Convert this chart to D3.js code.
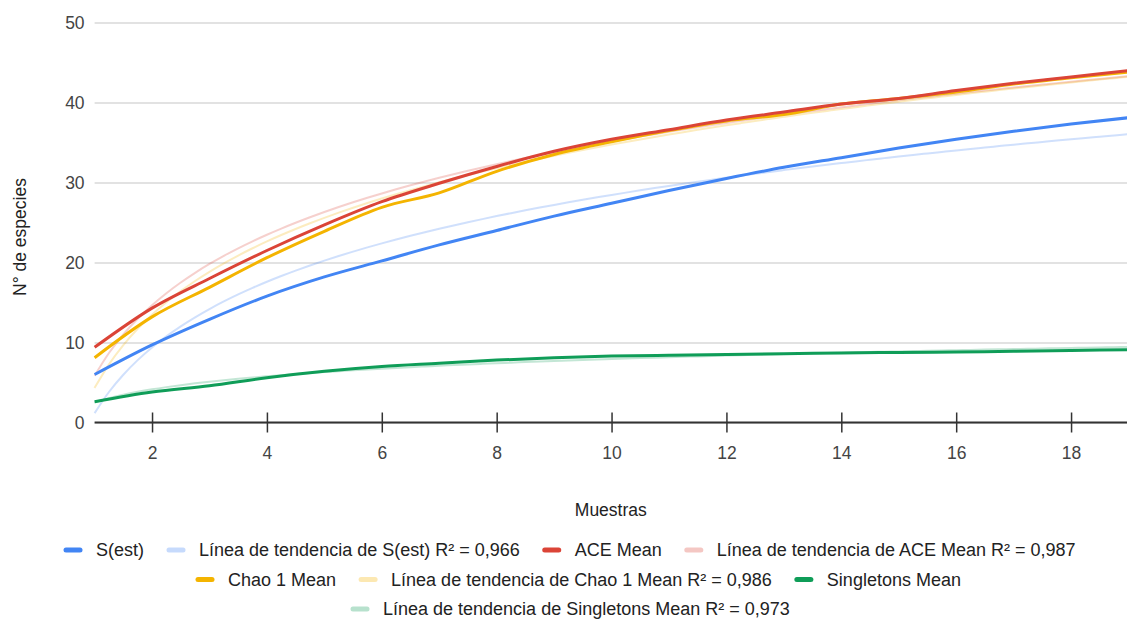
<!DOCTYPE html>
<html>
<head>
<meta charset="utf-8">
<script src="https://cdn.jsdelivr.net/npm/d3@7"></script>
<style>
  body { margin: 0; background: #fff; }
  text { font-family: "Liberation Sans", Arial, sans-serif; }
</style>
</head>
<body>
<svg id="canvas" width="1127" height="625"></svg>
<script>
'use strict';

// muestras 1..19
const samples = d3.range(1, 20);

const sEst = [6.0, 9.7, 12.9, 15.8, 18.2, 20.2, 22.2, 24.0, 25.8, 27.4,
  29.0, 30.5, 31.9, 33.1, 34.3, 35.4, 36.4, 37.3, 38.1];
const aceMean = [9.4, 14.3, 18.0, 21.5, 24.7, 27.6, 29.9, 32.0, 33.9, 35.4,
  36.6, 37.8, 38.8, 39.8, 40.5, 41.5, 42.4, 43.2, 44.0];
const chaoMean = [8.1, 13.2, 16.9, 20.6, 23.9, 26.9, 28.7, 31.4, 33.5, 35.1,
  36.5, 37.7, 38.5, 39.8, 40.5, 41.3, 42.3, 43.1, 43.8];
const singletonsMean = [2.6, 3.8, 4.6, 5.6, 6.4, 7.0, 7.4, 7.8, 8.1, 8.3,
  8.4, 8.5, 8.6, 8.7, 8.75, 8.8, 8.9, 9.0, 9.1];

const seriesNames = ['S(est)', 'ACE Mean', 'Chao 1 Mean', 'Singletons Mean'];
const seriesColors = ['#4285f4', '#db4437', '#f4b400', '#0f9d58'];
const trendR2 = ['0,966', '0,987', '0,986', '0,973'];

const yTicks = [0, 10, 20, 30, 40, 50];
const xTicks = [2, 4, 6, 8, 10, 12, 14, 16, 18];

const xTitle = 'Muestras';
const yTitle = 'N° de especies';

// legend order as in the chart: series, then its trend line
const legendRows = [
  [[0, false], [0, true], [1, false], [1, true]],
  [[2, false], [2, true], [3, false]],
  [[3, true]]
];
const legendRowStart = [66, 198, 353];

function LogFit(xs, ys) {
  // least squares y = a + b*ln(x), like the sheet's logarithmic trend line
  const lx = xs.map(Math.log);
  const mx = d3.mean(lx);
  const my = d3.mean(ys);
  var sxy = 0, sxx = 0;
  lx.forEach(function(v, i) {
    sxy += (v - mx) * (ys[i] - my);
    sxx += (v - mx) * (v - mx);
  });
  const b = sxy / sxx;
  const a = my - b * mx;
  return function(x) { return a + b * Math.log(x); };
}

function Main() {
  const svg = d3.select('#canvas');
  const left = 94.6, right = 1128.5, top = 22.5, bottom = 422.5;

  const x = d3.scaleLinear().domain([1, 19]).range([left, right]);
  const y = d3.scaleLinear().domain([0, 50]).range([bottom, top]);

  svg.append('clipPath').attr('id', 'plotClip')
    .append('rect').attr('x', left - 2).attr('y', 0)
    .attr('width', 1127 - left + 2).attr('height', 470);

  // grid
  svg.append('g')
    .attr('transform', 'translate(' + left + ',0)')
    .call(d3.axisLeft(y).tickValues(yTicks).tickSize(-(1127 - left)).tickFormat(''))
    .call(function(g) {
      g.select('.domain').remove();
      g.selectAll('line').attr('stroke', '#d9d9d9').attr('stroke-width', 1.5);
    });

  // y labels
  svg.append('g')
    .attr('transform', 'translate(' + left + ',0)')
    .call(d3.axisLeft(y).tickValues(yTicks).tickSize(0).tickPadding(10))
    .call(function(g) {
      g.select('.domain').remove();
      g.selectAll('text').attr('fill', '#444').style('font-size', '17.5px')
        .style('font-family', '"Liberation Sans", Arial, sans-serif');
    });

  const series = [sEst, aceMean, chaoMean, singletonsMean];
  const plot = svg.append('g').attr('clip-path', 'url(#plotClip)');

  const line = d3.line()
    .x(function(d) { return x(d[0]); })
    .y(function(d) { return y(d[1]); })
    .curve(d3.curveMonotoneX);

  // trend lines
  series.forEach(function(vals, i) {
    const fit = LogFit(samples, vals);
    const pts = d3.range(1, 19.01, 0.25).map(function(t) { return [t, fit(t)]; });
    plot.append('path')
      .datum(pts)
      .attr('fill', 'none')
      .attr('stroke', seriesColors[i])
      .attr('stroke-opacity', 0.25)
      .attr('stroke-width', 2)
      .attr('d', line);
  });

  // series lines, green first so others sit on top
  [3, 0, 2, 1].forEach(function(i) {
    plot.append('path')
      .datum(samples.map(function(s, k) { return [s, series[i][k]]; }))
      .attr('fill', 'none')
      .attr('stroke', seriesColors[i])
      .attr('stroke-width', 3)
      .attr('stroke-linejoin', 'round')
      .attr('d', line);
  });

  // x axis
  svg.append('g')
    .attr('transform', 'translate(0,' + bottom + ')')
    .call(d3.axisBottom(x).tickValues(xTicks).tickSizeInner(10).tickSizeOuter(0).tickPadding(14))
    .call(function(g) {
      g.select('.domain').attr('stroke', '#333').attr('stroke-width', 2)
        .attr('d', 'M' + left + ',0H1127');
      g.selectAll('.tick line').attr('stroke', '#333').attr('stroke-width', 1.5)
        .attr('y1', -10).attr('y2', 10);
      g.selectAll('text').attr('fill', '#444').style('font-size', '17.5px')
        .style('font-family', '"Liberation Sans", Arial, sans-serif');
    });

  svg.append('text')
    .attr('x', (left + 1127) / 2).attr('y', 516)
    .attr('text-anchor', 'middle').attr('fill', '#222')
    .style('font-size', '17.5px').text(xTitle);

  svg.append('text')
    .attr('transform', 'translate(26,237) rotate(-90)')
    .attr('text-anchor', 'middle').attr('fill', '#222')
    .style('font-size', '17.5px').text(yTitle);

  // legend
  legendRows.forEach(function(row, r) {
    var cx = legendRowStart[r];
    const cy = 550 + r * 29.5;
    row.forEach(function(item) {
      const i = item[0], trend = item[1];
      svg.append('line')
        .attr('x1', cx).attr('x2', cx + 14).attr('y1', cy).attr('y2', cy)
        .attr('stroke', seriesColors[i])
        .attr('stroke-opacity', trend ? 0.3 : 1)
        .attr('stroke-width', 5).attr('stroke-linecap', 'round');
      const label = trend
        ? 'Línea de tendencia de ' + seriesNames[i] + ' R² = ' + trendR2[i]
        : seriesNames[i];
      const t = svg.append('text')
        .attr('x', cx + 30).attr('y', cy + 6)
        .attr('fill', '#222').style('font-size', '18px')
        .text(label);
      cx += 30 + t.node().getComputedTextLength() + 25;
    });
  });
}

Main();
</script>
</body>
</html>
